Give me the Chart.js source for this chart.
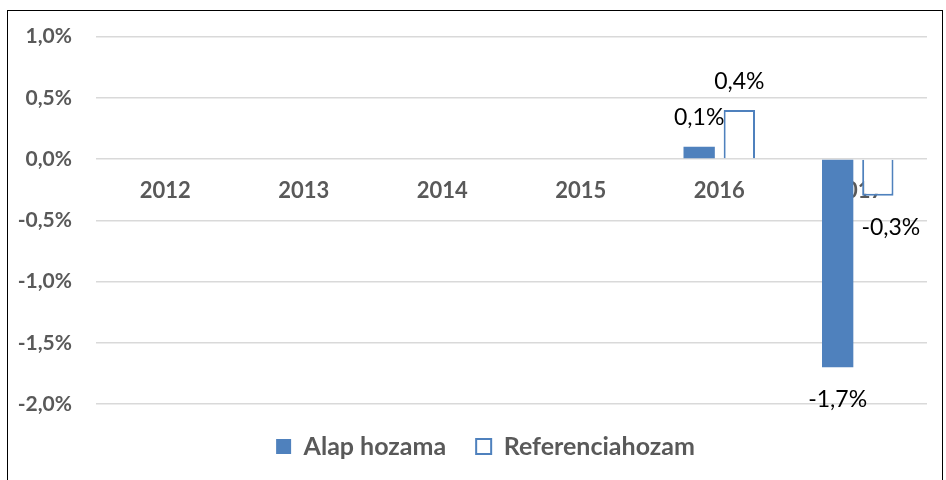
<!DOCTYPE html>
<html>
<head>
<meta charset="utf-8">
<script src="https://cdn.jsdelivr.net/npm/chart.js@4.4.0/dist/chart.umd.min.js"></script>
<style>
  html, body { margin: 0; padding: 0; background: #fff; }
  #wrap { position: relative; width: 946px; height: 480px; overflow: hidden; }
  #frame { position: absolute; left: 7px; top: 10px; width: 936px; height: 480px; border: 1.5px solid #000; box-sizing: border-box; pointer-events: none; }
  canvas { position: absolute; left: 0; top: 0; }
</style>
</head>
<body>
<div id="wrap">
  <canvas id="chart" width="946" height="480"></canvas>
  <div id="frame"></div>
</div>
<script>
// adatok
const years = ["2012", "2013", "2014", "2015", "2016", "2017"];
const alapHozama = [null, null, null, null, 0.1, -1.7];
const referenciaHozam = [null, null, null, null, 0.4, -0.3];

const kek = "#4f81bd";
const szurke = "#595959";
const fontName = "Lato, 'Open Sans', sans-serif";

function pct(v) {
  return v.toFixed(1).replace(".", ",") + "%";
}

// cimkek a oszlopok felett / alatt
const dataLabels = {
  id: "dataLabels",
  afterDatasetsDraw(chart) {
    const ctx = chart.ctx;
    ctx.save();
    ctx.font = "23px " + fontName;
    ctx.fillStyle = "#000";
    ctx.textAlign = "center";
    ctx.textBaseline = "middle";
    chart.data.datasets.forEach(function (ds, i) {
      const meta = chart.getDatasetMeta(i);
      meta.data.forEach(function (bar, j) {
        const v = ds.data[j];
        if (v === null || v === undefined) return;
        const y = v >= 0 ? bar.y - 29 : bar.y + 32;
        // a -0,3% cimke kicsit jobbra csuszik, mint az eredetin
        const x = (v < 0 && i === 1) ? bar.x + 13 : bar.x;
        ctx.fillText(pct(v), x, y);
      });
    });
    ctx.restore();
  }
};

// a jelmagyarazat kicsit jobbra tolva, mint az eredetin
const legendShift = {
  id: "legendShift",
  afterLayout(chart) {
    if (chart.legend) {
      chart.legend.left += 22;
      chart.legend.right += 22;
    }
  }
};

const ctx = document.getElementById("chart").getContext("2d");
const myChart = new Chart(ctx, {
  type: "bar",
  data: {
    labels: years,
    datasets: [
      {
        label: "Alap hozama",
        data: alapHozama,
        backgroundColor: kek,
        borderColor: kek,
        borderWidth: 0,
        categoryPercentage: 0.58,
        barPercentage: 0.78
      },
      {
        label: "Referenciahozam",
        data: referenciaHozam,
        backgroundColor: "#fff",
        borderColor: kek,
        borderWidth: 2,
        categoryPercentage: 0.58,
        barPercentage: 0.78
      }
    ]
  },
  options: {
    responsive: false,
    animation: false,
    layout: { padding: { top: 0, right: 19, bottom: 11, left: 0 } },
    plugins: {
      tooltip: { enabled: false },
      legend: {
        position: "bottom",
        labels: {
          color: szurke,
          font: { family: fontName, size: 25, weight: "bold" },
          boxWidth: 15,
          boxHeight: 15,
          padding: 30,
          useBorderRadius: false
        }
      }
    },
    scales: {
      x: {
        position: { y: 0 },
        afterFit: function (scale) { scale.height = 33; },
        grid: { display: false },
        border: { display: false },
        ticks: {
          color: szurke,
          font: { family: fontName, size: 22, weight: "bold" },
          padding: 11
        }
      },
      y: {
        min: -2,
        max: 1,
        afterFit: function (scale) { scale.width = 96; },
        grid: { color: "#d9d9d9", lineWidth: 1.5, drawTicks: false },
        border: { display: false },
        ticks: {
          stepSize: 0.5,
          color: szurke,
          font: { family: fontName, size: 21, weight: "bold" },
          padding: 24,
          callback: function (v) { return pct(v); }
        }
      }
    }
  },
  plugins: [dataLabels, legendShift]
});
</script>
</body>
</html>
